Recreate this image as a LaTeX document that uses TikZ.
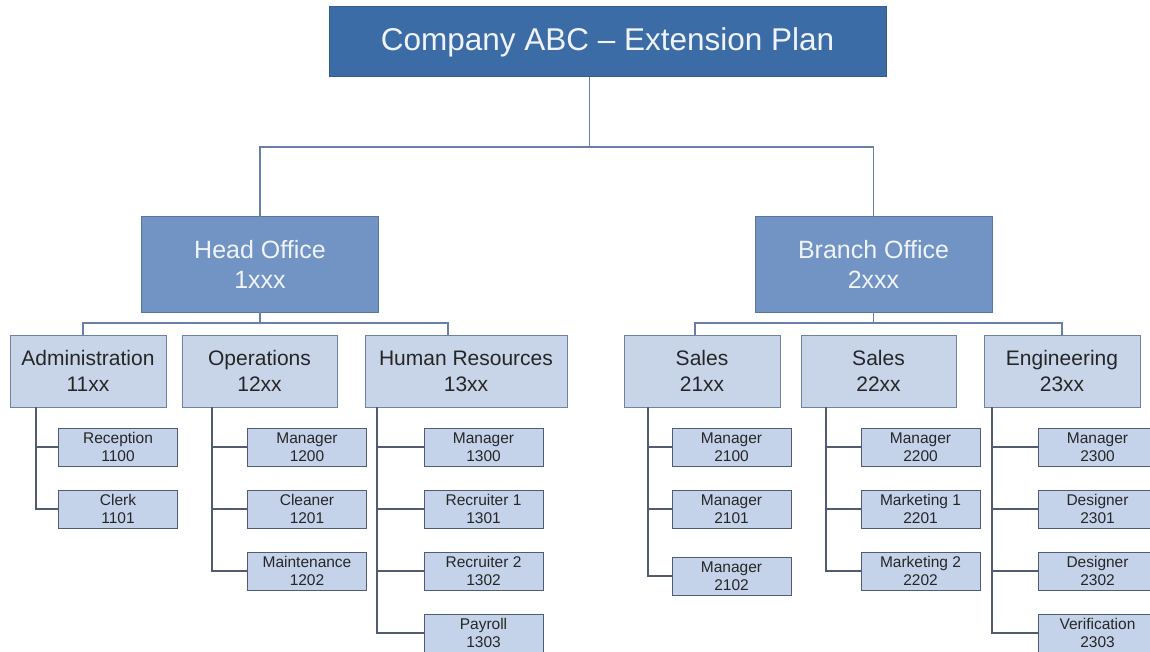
\documentclass[tikz,border=0pt]{standalone}
\usepackage{fontspec}
\setmainfont{Liberation Sans}
\usetikzlibrary{positioning}

\definecolor{titleblue}{RGB}{59,108,166}
\definecolor{officeblue}{RGB}{114,148,196}
\definecolor{deptfill}{RGB}{200,213,233}
\definecolor{deptdraw}{RGB}{112,130,162}
\definecolor{unitfill}{RGB}{197,211,234}
\definecolor{unitdraw}{RGB}{80,92,115}
\definecolor{linkblue}{RGB}{104,128,168}
\definecolor{linkgrey}{RGB}{82,92,112}
\definecolor{lighttext}{RGB}{240,244,250}
\definecolor{darktext}{RGB}{38,38,38}

\tikzset{
	box/.style={rectangle,inner sep=0pt,outer sep=0pt,align=center,line width=1pt},
	title/.style={box,fill=titleblue,draw=titleblue!85!black,text=lighttext,
		minimum width=557pt,minimum height=70pt,font=\fontsize{31.5}{36}\selectfont},
	office/.style={box,fill=officeblue,draw=officeblue!80!black,text=lighttext,
		minimum width=237pt,minimum height=95pt,font=\fontsize{25}{30}\selectfont},
	dept/.style={box,fill=deptfill,draw=deptdraw,text=darktext,
		minimum width=156pt,minimum height=72pt,font=\fontsize{21}{26}\selectfont},
	unit/.style={box,fill=unitfill,draw=unitdraw,text=darktext,
		minimum width=119pt,minimum height=38pt,font=\fontsize{15.5}{18.5}\selectfont},
	link/.style={draw=linkblue,line width=1.4pt},
	sublink/.style={draw=linkgrey,line width=1.4pt}
}

\begin{document}
\begin{tikzpicture}[x=1pt,y=-1pt]
	\fill[white] (0,0) rectangle (1150,652);
	\useasboundingbox (0,0) rectangle (1150,652);

	% top levels
	\node[title] (T) at (607.5,42) {Company ABC -- Extension Plan};
	\node[office] (H) at (260,264.5) {Head Office\\1xxx};
	\node[office] (B) at (873.5,264.5) {Branch Office\\2xxx};

	% departments
	\node[dept] (D11) at (88,371) {Administration\\11xx};
	\node[dept, minimum width=155pt] (D12) at (259.5,371) {Operations\\12xx};
	\node[dept, minimum width=202pt] (D13) at (466,371) {Human Resources\\13xx};
	\node[dept] (D21) at (702,371) {Sales\\21xx};
	\node[dept, minimum width=155pt] (D22) at (878.5,371) {Sales\\22xx};
	\node[dept] (D23) at (1062,371) {Engineering\\23xx};

	% units
	\node[unit] (U1100) at (118,447) {Reception\\1100};
	\node[unit, below=24pt of U1100] (U1101) {Clerk\\1101};

	\node[unit] (U1200) at (307,447) {Manager\\1200};
	\node[unit, below=24pt of U1200] (U1201) {Cleaner\\1201};
	\node[unit, below=24pt of U1201] (U1202) {Maintenance\\1202};

	\node[unit] (U1300) at (483.5,447) {Manager\\1300};
	\node[unit, below=24pt of U1300] (U1301) {Recruiter 1\\1301};
	\node[unit, below=24pt of U1301] (U1302) {Recruiter 2\\1302};
	\node[unit, below=24pt of U1302] (U1303) {Payroll\\1303};

	\node[unit] (U2100) at (731.5,447) {Manager\\2100};
	\node[unit, below=24pt of U2100] (U2101) {Manager\\2101};
	\node[unit, below=29pt of U2101] (U2102) {Manager\\2102};

	\node[unit] (U2200) at (920.5,447) {Manager\\2200};
	\node[unit, below=24pt of U2200] (U2201) {Marketing 1\\2201};
	\node[unit, below=24pt of U2201] (U2202) {Marketing 2\\2202};

	\node[unit] (U2300) at (1097.5,447) {Manager\\2300};
	\node[unit, below=24pt of U2300] (U2301) {Designer\\2301};
	\node[unit, below=24pt of U2301] (U2302) {Designer\\2302};
	\node[unit, below=24pt of U2302] (U2303) {Verification\\2303};

	% connectors
	\draw[link] ([xshift=-18pt]T.south) -- ++(0,70);
	\draw[link] (H.north) -- ++(0,-70) -| (B.north);
	\draw[link] (H.south) -- ++(0,11);
	\draw[link] ([xshift=-5pt]D11.north) -- ++(0,-12) -| ([xshift=-18pt]D13.north);
	\draw[link] (B.south) -- ++(0,11);
	\draw[link] ([xshift=-7pt]D21.north) -- ++(0,-12) -| (D23.north);

	\foreach \u in {U1100,U1101}
		\draw[sublink] ([xshift=26pt]D11.south west) |- (\u.west);
	\foreach \u in {U1200,U1201,U1202}
		\draw[sublink] ([xshift=30pt]D12.south west) |- (\u.west);
	\foreach \u in {U1300,U1301,U1302,U1303}
		\draw[sublink] ([xshift=12pt]D13.south west) |- (\u.west);
	\foreach \u in {U2100,U2101,U2102}
		\draw[sublink] ([xshift=24pt]D21.south west) |- (\u.west);
	\foreach \u in {U2200,U2201,U2202}
		\draw[sublink] ([xshift=25pt]D22.south west) |- (\u.west);
	\foreach \u in {U2300,U2301,U2302,U2303}
		\draw[sublink] ([xshift=8pt]D23.south west) |- (\u.west);
\end{tikzpicture}
\end{document}
